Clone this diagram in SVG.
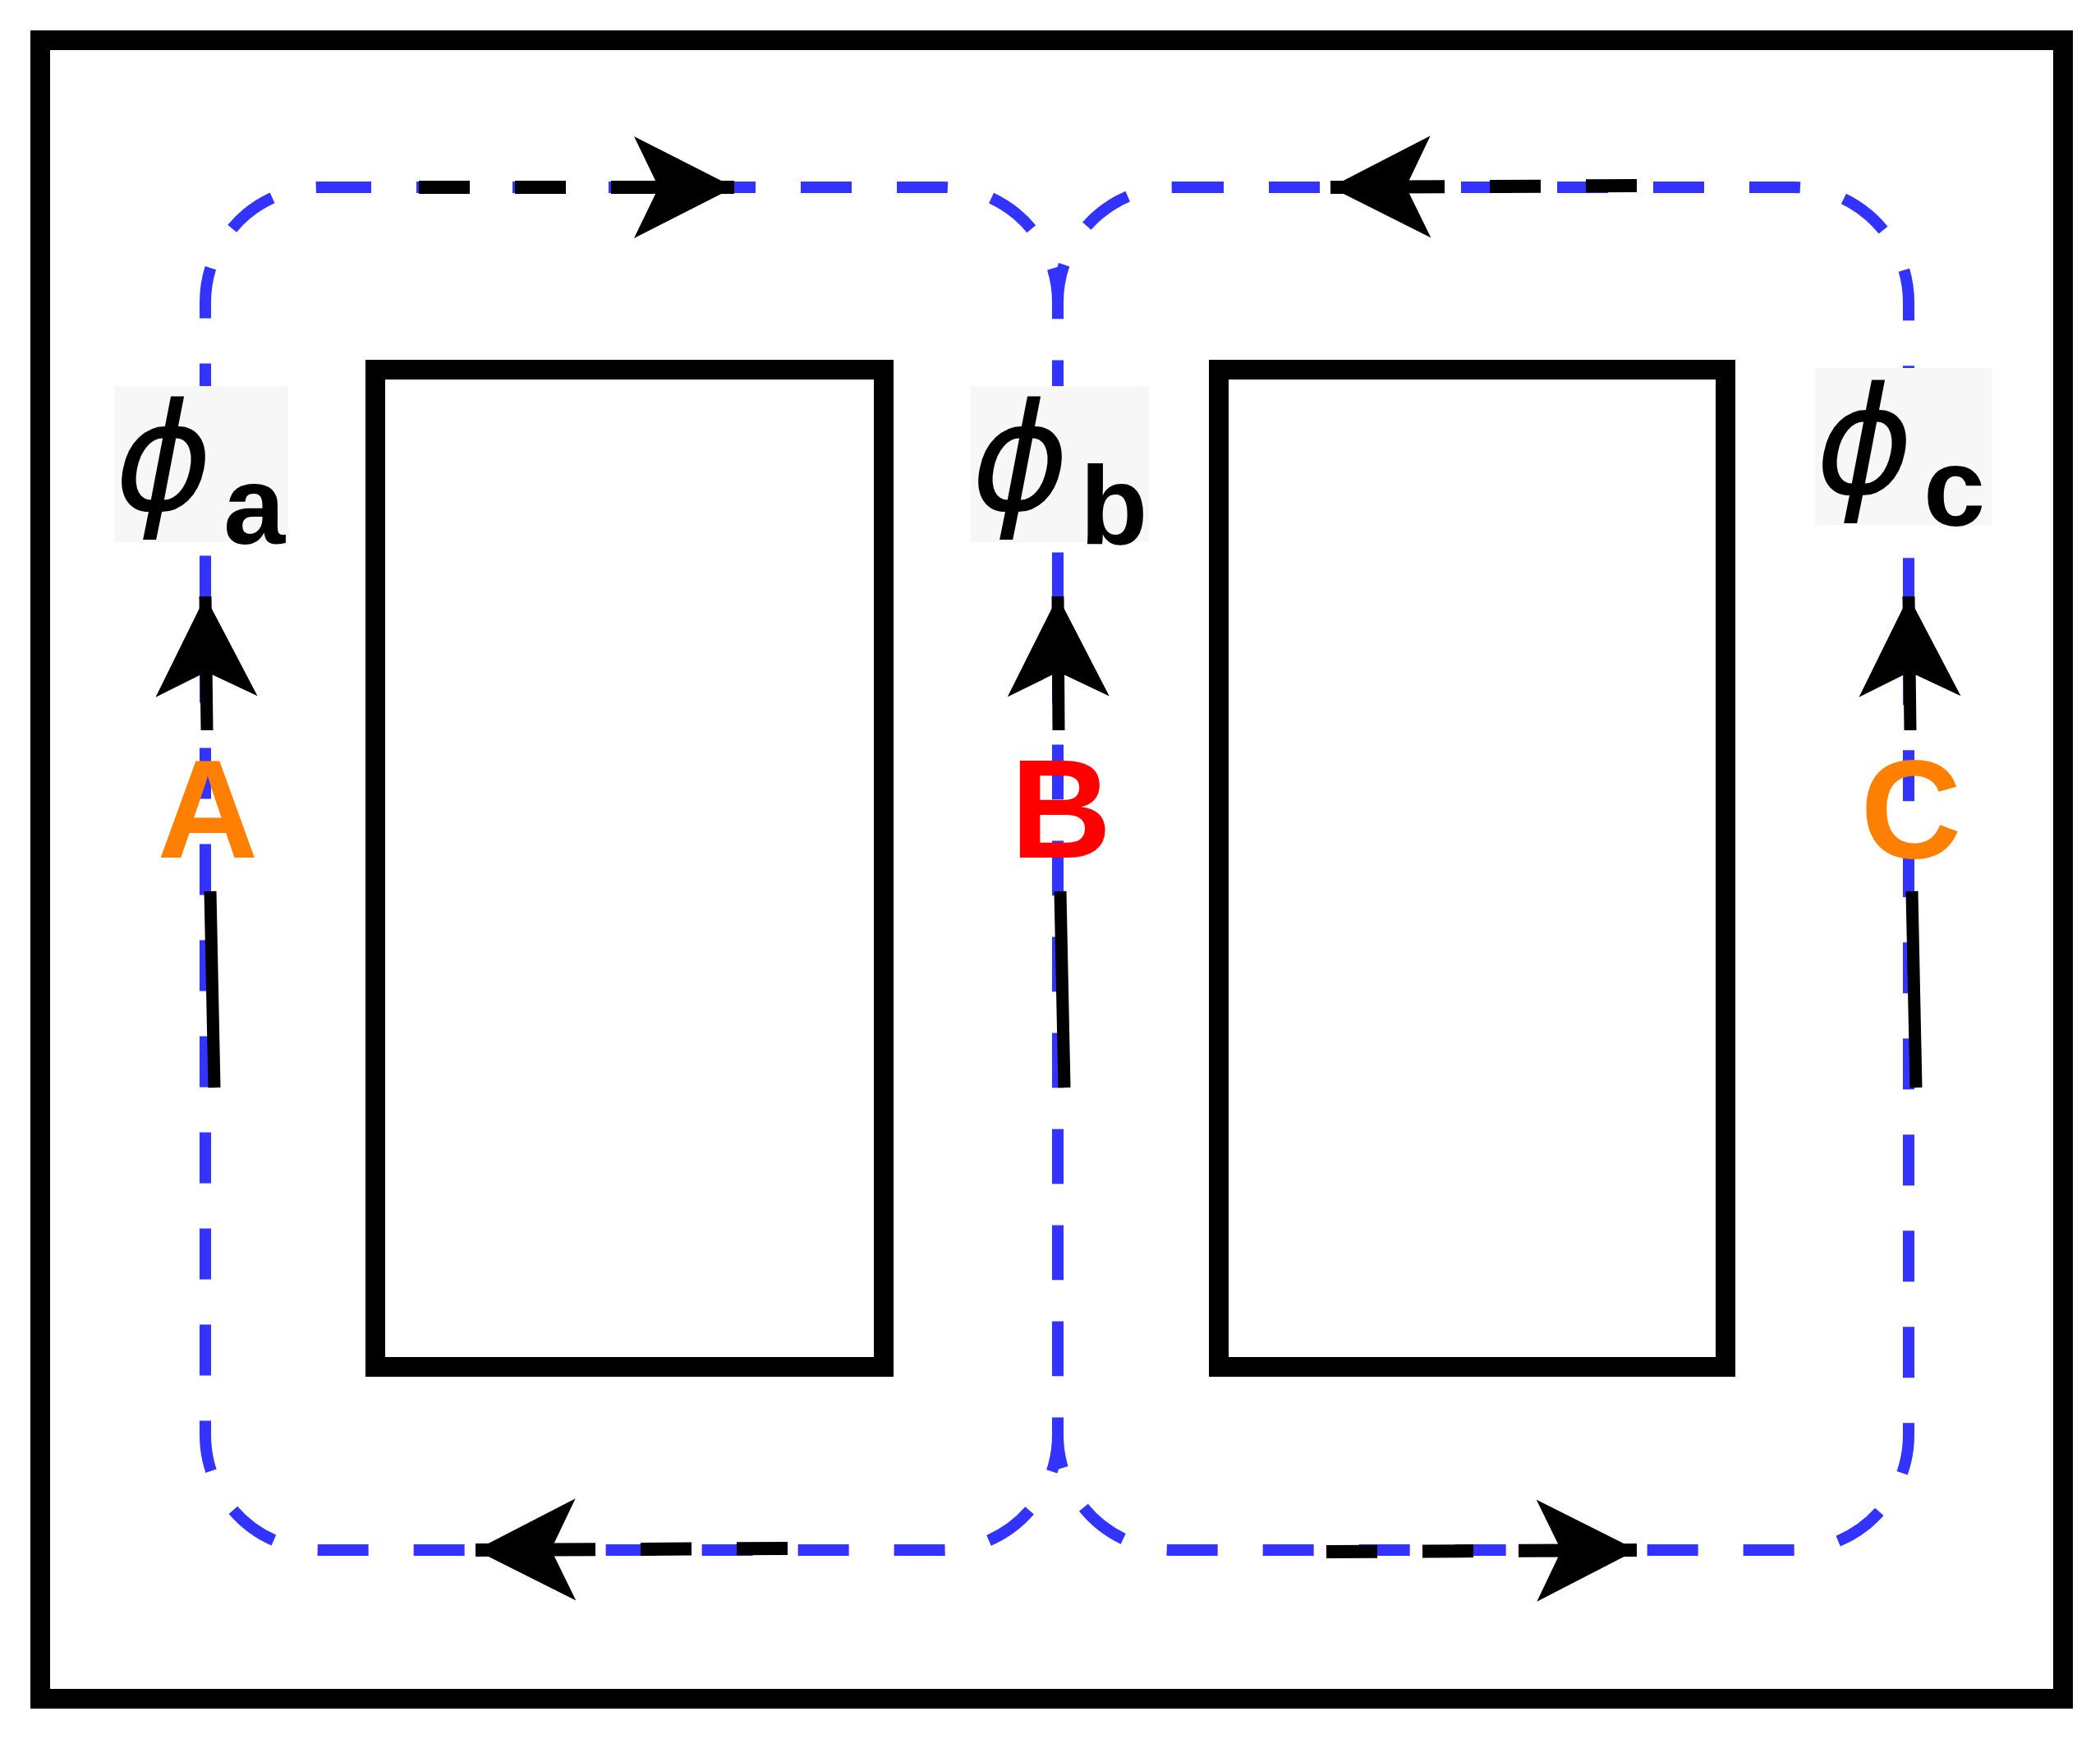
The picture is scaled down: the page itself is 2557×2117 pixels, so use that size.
<svg xmlns="http://www.w3.org/2000/svg" width="2557" height="2117" viewBox="0 0 2557 2117">
<style>
.frame{fill:none;stroke:#000;stroke-width:24}
.loop{fill:none;stroke:#3333ff;stroke-width:14;stroke-dasharray:62 55}
.bd{stroke:#000;stroke-width:16;stroke-dasharray:62 55;fill:none}
.bl{stroke:#000;stroke-width:15;fill:none}
.lbl{font-family:"DejaVu Sans",sans-serif;font-style:italic;font-size:180px}
.sub{font-family:"Liberation Sans",sans-serif;font-weight:bold;font-size:135px}
.ph{font-family:"Liberation Sans",sans-serif;font-weight:bold;font-size:170px;text-anchor:middle}
</style>
<defs>
<marker id="ah" markerUnits="userSpaceOnUse" markerWidth="130" markerHeight="130" refX="122" refY="62" orient="auto"><path d="M0,0 L122,62 L0,124 L30,62 Z" fill="#000"/></marker>
</defs>
<rect id="frame" x="49" y="49" width="2463" height="2019" class="frame"/>
<g id="core-left"><rect x="457" y="450" width="619" height="1214" class="frame"/></g>
<g id="core-right"><rect x="1484" y="450" width="617" height="1214" class="frame"/></g>
<g id="loops">
<rect x="250" y="228" width="1038" height="1659" rx="140" class="loop"/>
<rect x="1288" y="228" width="1036" height="1659" rx="140" class="loop"/>
</g>
<g id="labels">
<rect x="139" y="470" width="212" height="190" fill="#f7f7f7"/>
<rect x="1182" y="470" width="217" height="190" fill="#f7f7f7"/>
<rect x="2210" y="448" width="215" height="191" fill="#f7f7f7"/>
<text class="lbl" x="140" y="620">ϕ</text><text class="sub" x="272" y="662">a</text>
<text class="lbl" x="1183" y="620">ϕ</text><text class="sub" x="1315" y="662">b</text>
<text class="lbl" x="2211" y="600">ϕ</text><text class="sub" x="2342" y="640">c</text>
<text class="ph" x="253" y="1044" fill="#ff8000">A</text>
<text class="ph" x="1292" y="1044" fill="#ff0000">B</text>
<text class="ph" x="2327" y="1044" fill="#ff8000">C</text>
</g>
<g id="connectors">
<line class="bl" x1="252" y1="889" x2="250" y2="726" marker-end="url(#ah)"/>
<line class="bl" x1="1289" y1="889" x2="1288" y2="726" marker-end="url(#ah)"/>
<line class="bl" x1="2326" y1="889" x2="2324" y2="726" marker-end="url(#ah)"/>
<line class="bl" x1="256" y1="1085" x2="261" y2="1324"/>
<line class="bl" x1="1291" y1="1085" x2="1296" y2="1324"/>
<line class="bl" x1="2328" y1="1085" x2="2333" y2="1324"/>
<line class="bd" x1="510" y1="228" x2="894" y2="228" marker-end="url(#ah)"/>
<line class="bd" x1="1993" y1="226" x2="1620" y2="228" marker-end="url(#ah)"/>
<line class="bd" x1="959" y1="1885" x2="579" y2="1887" marker-end="url(#ah)"/>
<line class="bd" x1="1615" y1="1889" x2="1993" y2="1887" marker-end="url(#ah)"/>
</g>
</svg>
